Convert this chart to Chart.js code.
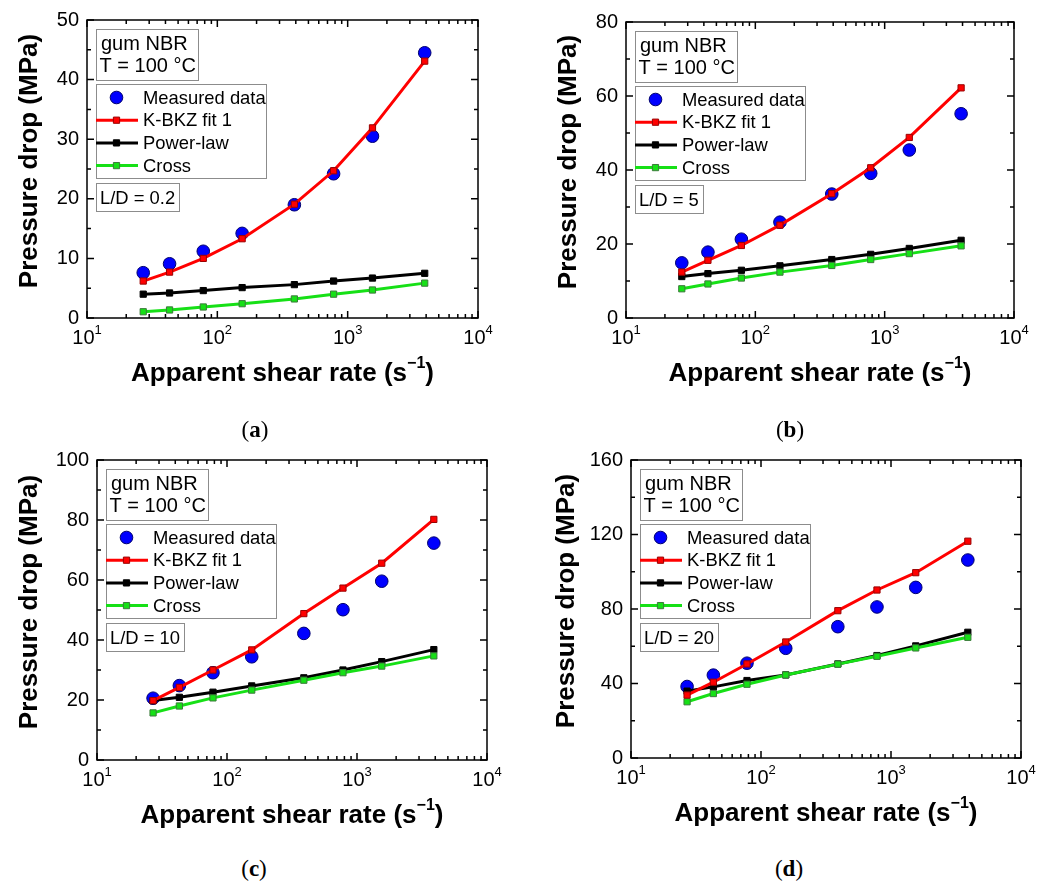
<!DOCTYPE html>
<html>
<head>
<meta charset="utf-8">
<script src="https://cdn.jsdelivr.net/npm/chart.js@4.4.1/dist/chart.umd.min.js"></script>
<style>
  body { margin: 0; background: #fff; }
  #fig { position: relative; width: 1049px; height: 884px; }
  #fig canvas { position: absolute; }
  .cap { position: absolute; width: 60px; margin-left: -30px; text-align: center;
         font: 23px "Liberation Serif", "DejaVu Serif", serif; line-height: 24px; color: #000; }
</style>
</head>
<body>
<div id="fig">
  <canvas id="chartA" width="524" height="400" style="left:0;top:0"></canvas>
  <canvas id="chartB" width="525" height="400" style="left:524px;top:0"></canvas>
  <canvas id="chartC" width="524" height="400" style="left:0;top:440px"></canvas>
  <canvas id="chartD" width="525" height="400" style="left:524px;top:440px"></canvas>
  <div class="cap" style="left:255px;top:418px">(<b>a</b>)</div>
  <div class="cap" style="left:790px;top:418px">(<b>b</b>)</div>
  <div class="cap" style="left:254px;top:857px">(<b>c</b>)</div>
  <div class="cap" style="left:789px;top:857px">(<b>d</b>)</div>
</div>
<script>
// apparent shear rates (1/s), same for every L/D
const shearRate = [27, 43, 78, 155, 390, 780, 1550, 3900];

// L/D = 0.2
const measuredA = [7.6, 9.1, 11.2, 14.2, 19.0, 24.2, 30.5, 44.5];
const kbkzA = [6.2, 7.7, 10.0, 13.3, 19.1, 24.7, 31.9, 43.1];
const powerA = [4.0, 4.2, 4.6, 5.1, 5.6, 6.2, 6.7, 7.5];
const crossA = [1.05, 1.35, 1.85, 2.4, 3.2, 4.0, 4.7, 5.85];

// L/D = 5
const measuredB = [14.9, 17.8, 21.3, 25.9, 33.5, 39.1, 45.4, 55.2];
const kbkzB = [12.4, 15.6, 19.6, 25.1, 33.6, 40.6, 48.8, 62.2];
const powerB = [11.2, 12.0, 12.9, 14.1, 15.8, 17.2, 18.8, 21.0];
const crossB = [7.9, 9.2, 10.8, 12.4, 14.2, 15.8, 17.4, 19.5];

// L/D = 10
const measuredC = [20.6, 24.8, 29.1, 34.4, 42.2, 50.1, 59.6, 72.3];
const kbkzC = [19.8, 24.2, 30.0, 36.7, 48.8, 57.3, 65.6, 80.2];
const powerC = [19.8, 20.9, 22.6, 24.7, 27.4, 30.0, 32.8, 36.8];
const crossC = [15.7, 18.0, 20.7, 23.3, 26.6, 29.1, 31.3, 34.7];

// L/D = 20
const measuredD = [38.4, 44.5, 50.9, 58.9, 70.5, 81.1, 91.6, 106.3];
const kbkzD = [33.8, 40.7, 50.5, 62.3, 79.1, 90.2, 99.5, 116.4];
const powerD = [35.9, 38.2, 41.6, 44.6, 50.5, 55.0, 60.2, 67.5];
const crossD = [30.2, 34.6, 39.6, 44.6, 50.4, 54.6, 59.1, 64.8];

const seriesNames = ['Measured data', 'K-BKZ fit 1', 'Power-law', 'Cross'];
const decades = [10, 100, 1000, 10000];
const decadeExp = ['1', '2', '3', '4'];

const SANS = '"Liberation Sans", Arial, sans-serif';

function pts(ys) {
  return shearRate.map((x, i) => ({ x: x, y: ys[i] }));
}

function lineSet(label, ys, color, edge, order) {
  return {
    label: label, data: pts(ys), order: order,
    borderColor: color, borderWidth: 3, tension: 0,
    pointStyle: 'rect', pointRadius: 4.4, pointHoverRadius: 4.4,
    pointBackgroundColor: color, pointBorderColor: edge, pointBorderWidth: 1
  };
}

function supText(ctx, base, sup, cx, cy, baseFont, supFont, rise) {
  ctx.font = baseFont;
  const wb = ctx.measureText(base).width;
  ctx.font = supFont;
  const ws = ctx.measureText(sup).width;
  let x = cx - (wb + ws) / 2;
  ctx.textAlign = 'left';
  ctx.textBaseline = 'middle';
  ctx.font = baseFont;
  ctx.fillText(base, x, cy);
  ctx.font = supFont;
  ctx.fillText(sup, x + wb, cy - rise);
}

function box(ctx, x, y, w, h) {
  ctx.fillStyle = '#fff';
  ctx.fillRect(x, y, w, h);
  ctx.strokeStyle = '#8c8c8c';
  ctx.lineWidth = 1;
  ctx.strokeRect(Math.round(x) + 0.5, Math.round(y) + 0.5, Math.round(w), Math.round(h));
}

// frame with inward ticks, log-axis labels, axis titles and the legend boxes
const framePlugin = {
  id: 'frame',
  afterDraw(chart, args, opts) {
    const ctx = chart.ctx;
    const a = chart.chartArea;
    const xs = chart.scales.x, ys = chart.scales.y;
    ctx.save();
    ctx.strokeStyle = '#000';
    ctx.lineWidth = 1.5;
    ctx.strokeRect(a.left, a.top, a.right - a.left, a.bottom - a.top);

    ctx.beginPath();
    for (let v = 0; v <= opts.yMax + 1e-9; v += opts.yStep / 2) {
      const py = ys.getPixelForValue(v);
      const len = Math.abs(v / opts.yStep - Math.round(v / opts.yStep)) < 1e-6 ? 7 : 4;
      ctx.moveTo(a.left, py); ctx.lineTo(a.left + len, py);
      ctx.moveTo(a.right, py); ctx.lineTo(a.right - len, py);
    }
    decades.forEach(d => {
      for (let m = 1; m <= 9; m++) {
        const v = d * m;
        if (v > 10000) break;
        const px = xs.getPixelForValue(v);
        const len = m === 1 ? 7 : 4;
        ctx.moveTo(px, a.bottom); ctx.lineTo(px, a.bottom - len);
        ctx.moveTo(px, a.top); ctx.lineTo(px, a.top + len);
      }
    });
    ctx.stroke();

    ctx.fillStyle = '#000';
    decades.forEach((d, i) => {
      supText(ctx, '10', decadeExp[i], xs.getPixelForValue(d), a.bottom + 20,
        '20px ' + SANS, '13px ' + SANS, 8);
    });

    // x title with superscript s^-1
    const tFont = 'bold 26px ' + SANS, sFont = 'bold 16px ' + SANS;
    ctx.font = tFont;
    const t1 = 'Apparent shear rate (s', t2 = ')';
    const w1 = ctx.measureText(t1).width, w3 = ctx.measureText(t2).width;
    ctx.font = sFont;
    const w2 = ctx.measureText('\u22121').width;
    let tx = (a.left + a.right) / 2 - (w1 + w2 + w3) / 2;
    const ty = a.bottom + 56;
    ctx.textAlign = 'left'; ctx.textBaseline = 'middle';
    ctx.font = tFont; ctx.fillText(t1, tx, ty);
    ctx.font = sFont; ctx.fillText('\u22121', tx + w1, ty - 10);
    ctx.font = tFont; ctx.fillText(t2, tx + w1 + w2, ty);

    // y title
    ctx.save();
    ctx.translate(opts.yTitleX, (a.top + a.bottom) / 2 - 8);
    ctx.rotate(-Math.PI / 2);
    ctx.textAlign = 'center';
    ctx.font = tFont;
    ctx.fillText('Pressure drop (MPa)', 0, 0);
    ctx.restore();

    // annotation and legend boxes
    const lx = a.left + 9, ly = a.top + 9;
    box(ctx, lx, ly, 102, 51);
    ctx.fillStyle = '#000';
    ctx.font = '20px ' + SANS;
    ctx.textAlign = 'left'; ctx.textBaseline = 'alphabetic';
    ctx.fillText('gum NBR', lx + 5, ly + 21);
    ctx.fillText('T = 100 \u00b0C', lx + 3.5, ly + 43);

    const legFont = '18.4px ' + SANS;
    const ly2 = ly + 55;
    box(ctx, lx, ly2, 170, 94);
    chart.data.datasets.forEach((ds, i) => {
      const cy = ly2 + 13.5 + i * 22.7;
      if (ds.showLine !== false) {
        ctx.strokeStyle = ds.borderColor;
        ctx.lineWidth = ds.borderWidth;
        ctx.beginPath();
        ctx.moveTo(lx, cy); ctx.lineTo(lx + 42, cy);
        ctx.stroke();
      }
      ctx.fillStyle = ds.pointBackgroundColor;
      ctx.strokeStyle = ds.pointBorderColor;
      ctx.lineWidth = ds.pointBorderWidth;
      Chart.helpers.drawPoint(ctx, {
        pointStyle: ds.pointStyle, radius: ds.pointRadius, rotation: 0,
        borderWidth: ds.pointBorderWidth
      }, lx + 20.5, cy);
      ctx.fillStyle = '#000';
      ctx.font = legFont;
      ctx.textBaseline = 'middle';
      ctx.fillText(ds.label, lx + 47, cy + 1);
    });

    const ly3 = ly2 + 99;
    const ldText = 'L/D = ' + opts.ld;
    ctx.font = legFont;
    const lw = ctx.measureText(ldText).width + 8;
    box(ctx, lx, ly3, lw, 28);
    ctx.fillStyle = '#000';
    ctx.textBaseline = 'alphabetic';
    ctx.fillText(ldText, lx + 4, ly3 + 21);
    ctx.restore();
  }
};

function makePanel(id, p) {
  const canvas = document.getElementById(id);
  const W = canvas.width, H = canvas.height;
  return new Chart(canvas, {
    type: 'line',
    data: {
      datasets: [
        {
          label: seriesNames[0], data: pts(p.measured), order: 4, showLine: false,
          pointStyle: 'circle', pointRadius: 6.3, pointHoverRadius: 6.3,
          pointBackgroundColor: '#0000ff', pointBorderColor: '#00006e', pointBorderWidth: 1,
          borderColor: '#0000ff'
        },
        lineSet(seriesNames[1], p.kbkz, '#ff0000', '#9a0000', 1),
        lineSet(seriesNames[2], p.power, '#000000', '#000000', 3),
        lineSet(seriesNames[3], p.cross, '#16e016', '#3b7a3b', 2)
      ]
    },
    options: {
      responsive: false,
      animation: false,
      devicePixelRatio: 1,
      layout: { padding: { left: 0, top: p.top, right: W - p.right, bottom: 0 } },
      plugins: {
        legend: { display: false },
        tooltip: { enabled: false },
        frame: { yMax: p.yMax, yStep: p.yStep, ld: p.ld, yTitleX: p.yTitleX }
      },
      scales: {
        x: {
          type: 'logarithmic', min: 10, max: 10000,
          grid: { display: false }, border: { display: false },
          ticks: { display: false },
          afterFit: s => { s.height = H - p.bottom; }
        },
        y: {
          min: 0, max: p.yMax,
          grid: { display: false, drawTicks: false }, border: { display: false },
          ticks: { stepSize: p.yStep, padding: 8, color: '#000', font: { family: SANS, size: 20 } },
          afterFit: s => { s.width = p.left; }
        }
      }
    },
    plugins: [framePlugin]
  });
}

makePanel('chartA', { measured: measuredA, kbkz: kbkzA, power: powerA, cross: crossA,
  yMax: 50, yStep: 10, ld: '0.2', left: 87, top: 19, right: 478, bottom: 318, yTitleX: 30 });
makePanel('chartB', { measured: measuredB, kbkz: kbkzB, power: powerB, cross: crossB,
  yMax: 80, yStep: 20, ld: '5', left: 102, top: 22, right: 490, bottom: 318, yTitleX: 45 });
makePanel('chartC', { measured: measuredC, kbkz: kbkzC, power: powerC, cross: crossC,
  yMax: 100, yStep: 20, ld: '10', left: 97, top: 20, right: 487, bottom: 320, yTitleX: 30 });
makePanel('chartD', { measured: measuredD, kbkz: kbkzD, power: powerD, cross: crossD,
  yMax: 160, yStep: 40, ld: '20', left: 107, top: 20, right: 497, bottom: 318, yTitleX: 43 });
</script>
</body>
</html>
